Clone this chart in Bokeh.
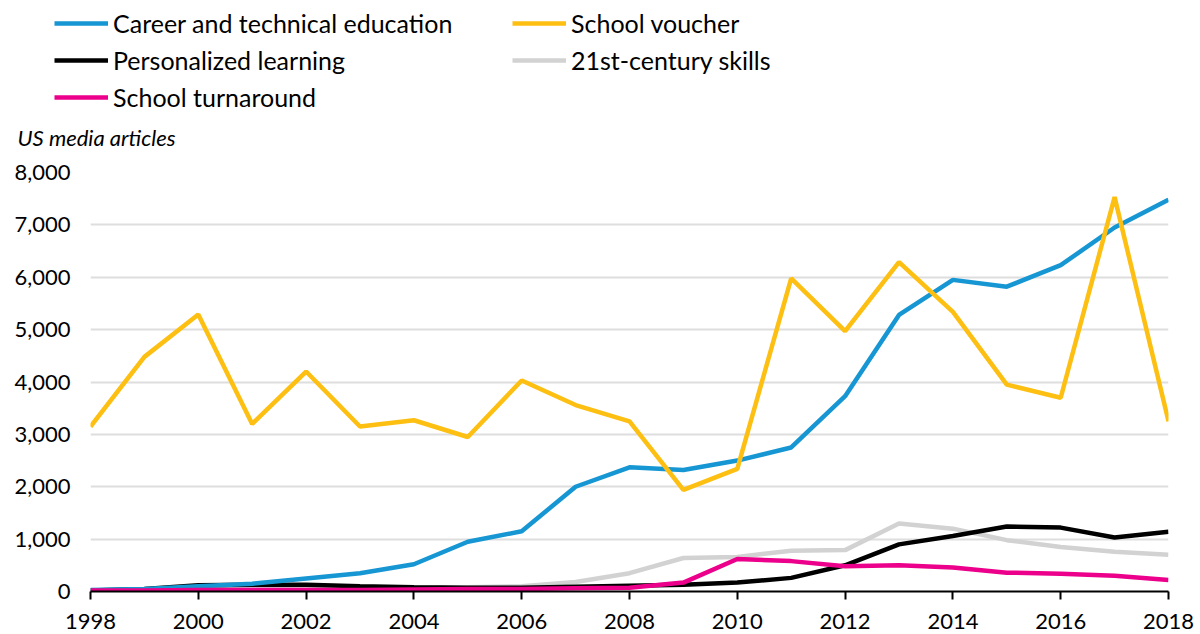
from bokeh.plotting import figure
from bokeh.models import (Range1d, Legend, LegendItem, FixedTicker, Label,
                          NumeralTickFormatter)
from bokeh.embed import file_html
from bokeh.resources import INLINE

years = list(range(1998, 2019))
career = [30, 50, 100, 150, 250, 350, 520, 950, 1150, 2000, 2370, 2320, 2500,
          2750, 3730, 5280, 5950, 5820, 6230, 6950, 7480]
voucher = [3150, 4480, 5290, 3200, 4200, 3150, 3270, 2950, 4030, 3560, 3250,
           1940, 2340, 5980, 4970, 6290, 5340, 3950, 3700, 7530, 3250]
personalized = [20, 50, 120, 130, 130, 100, 80, 70, 70, 90, 110, 130, 170,
                260, 500, 900, 1060, 1240, 1220, 1030, 1140]
skills = [20, 30, 40, 50, 60, 60, 70, 80, 100, 180, 350, 640, 660, 780, 790,
          1300, 1200, 980, 850, 760, 700]
turnaround = [20, 20, 30, 30, 30, 30, 40, 50, 50, 60, 70, 170, 620, 580, 480,
              500, 460, 360, 340, 300, 220]
x_ticks = [1998, 2000, 2002, 2004, 2006, 2008, 2010, 2012, 2014, 2016, 2018]
y_ticks = [0, 1000, 2000, 3000, 4000, 5000, 6000, 7000, 8000]

series = [
    ("Career and technical education", career, "#1696d2"),
    ("School voucher", voucher, "#fdbf11"),
    ("Personalized learning", personalized, "#000000"),
    ("21st-century skills", skills, "#d2d2d2"),
    ("School turnaround", turnaround, "#ec008b"),
]
draw_order = [3, 2, 0, 1, 4]

FONT = "Lato"
W = 1200
HEAD_H = 150
MAIN_H = 484
LW = 4.5

# ---------------- main chart ----------------
p = figure(width=W, height=MAIN_H, output_backend="svg", toolbar_location=None,
           x_range=Range1d(1998, 2018), y_range=Range1d(0, 8000),
           min_border_left=90, min_border_right=32, min_border_top=22,
           min_border_bottom=43)
p.outline_line_color = None
p.background_fill_color = "white"

p.xaxis.ticker = FixedTicker(ticks=x_ticks)
p.xaxis.axis_line_color = "black"
p.xaxis.axis_line_width = 2
p.xaxis.major_tick_line_color = "black"
p.xaxis.major_tick_line_width = 2
p.xaxis.major_tick_out = 8
p.xaxis.major_tick_in = 0
p.xaxis.minor_tick_line_color = None
p.xaxis.major_label_text_font = FONT
p.xaxis.major_label_text_font_size = "22px"
p.xaxis.major_label_text_color = "black"
p.xaxis.major_label_standoff = 14

p.yaxis.ticker = FixedTicker(ticks=y_ticks)
p.yaxis.formatter = NumeralTickFormatter(format="0,0")
p.yaxis.axis_line_color = None
p.yaxis.major_tick_line_color = None
p.yaxis.major_tick_out = 0
p.yaxis.major_tick_in = 0
p.yaxis.minor_tick_line_color = None
p.yaxis.major_label_text_font = FONT
p.yaxis.major_label_text_font_size = "22px"
p.yaxis.major_label_text_color = "black"
p.yaxis.major_label_standoff = 20

p.xgrid.grid_line_color = None
p.ygrid.grid_line_color = "#dedede"
p.ygrid.grid_line_width = 2

for i in draw_order:
    name, vals, col = series[i]
    p.line(years, vals, line_color=col, line_width=LW)

# ---------------- header (legend + unit label) ----------------
h = figure(width=W, height=HEAD_H, output_backend="svg", toolbar_location=None,
           x_range=Range1d(0, W), y_range=Range1d(0, HEAD_H),
           x_axis_type=None, y_axis_type=None,
           min_border_left=0, min_border_right=0, min_border_top=0,
           min_border_bottom=0)
h.outline_line_color = None
h.xgrid.grid_line_color = None
h.ygrid.grid_line_color = None

renderers = []
for name, vals, col in series:
    r = h.line(years, vals, line_color=col, line_width=LW, visible=False)
    renderers.append(r)


def make_legend(idx, loc):
    lg = Legend(items=[LegendItem(label=series[i][0], renderers=[renderers[i]])
                       for i in idx], location=loc, orientation="vertical")
    lg.label_text_font = FONT
    lg.label_text_font_size = "25px"
    lg.label_text_color = "black"
    lg.glyph_width = 54
    lg.glyph_height = 30
    lg.label_height = 30
    lg.label_standoff = 5
    lg.spacing = 7
    lg.padding = 0
    lg.margin = 0
    lg.border_line_color = None
    lg.background_fill_alpha = 0
    lg.inactive_fill_alpha = 0
    lg.click_policy = "none"
    return lg


h.add_layout(make_legend([0, 2, 4], (54, HEAD_H - 8 - 104)))
h.add_layout(make_legend([1, 3], (512, HEAD_H - 8 - 67)))

h.add_layout(Label(x=17, y=HEAD_H - 137, text="US media articles",
                   text_font=FONT, text_font_size="22px",
                   text_font_style="italic", text_color="black",
                   text_baseline="middle", text_align="left"))

open("out.html", "w").write(file_html([h, p], INLINE))
